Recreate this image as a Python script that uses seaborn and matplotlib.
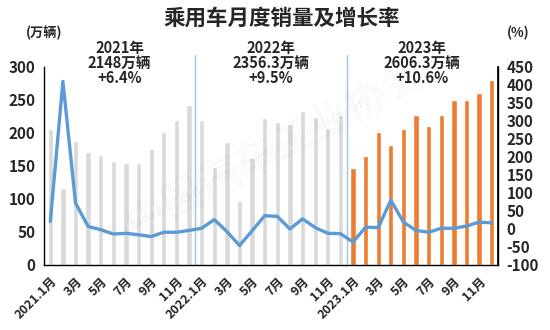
import matplotlib
matplotlib.use("Agg")
import matplotlib.pyplot as plt
import seaborn as sns
import pandas as pd
import numpy as np

sns.set_theme(style="white")
plt.rcParams['font.family'] = ['Noto Sans CJK SC', 'DejaVu Sans']
plt.rcParams['axes.unicode_minus'] = False

# Monthly passenger-car sales (万辆), Jan 2021 - Dec 2023
sales_2021 = [206, 116, 188, 171, 166, 158, 155, 155, 176, 202, 220, 242]
sales_2022 = [220, 149, 186, 97, 162, 222, 217, 213, 233, 224, 208, 227]
sales_2023 = [147, 165, 202, 182, 206, 227, 211, 228, 250, 250, 261, 280]

# Year-on-year growth (%)
growth_2021 = [21, 410, 72, 7, -2, -14, -12, -16, -21, -9, -9, -4]
growth_2022 = [2, 26, -7, -46, -5, 37, 35, 0, 28, 4, -12, -13]
growth_2023 = [-36, 5, 4, 80, 19, -4, -9, 2, 2, 8, 19, 17]

years = ["2021", "2022", "2023"]
year_notes = ["2021年\n2148万辆\n+6.4%", "2022年\n2356.3万辆\n+9.5%", "2023年\n2606.3万辆\n+10.6%"]
month_labels = ["1月", "3月", "5月", "7月", "9月", "11月"]

sales = sales_2021 + sales_2022 + sales_2023
growth = growth_2021 + growth_2022 + growth_2023
n = len(sales)
df = pd.DataFrame({
    "idx": np.arange(n),
    "sales": sales,
    "growth": growth,
    "year": np.repeat(years, 12),
})

fig = plt.figure(figsize=(5.5, 3.3), dpi=100)

# faint association watermark
fig.text(0.5, 0.55, "中国汽车工业协会", rotation=28, fontsize=30, fontweight="bold",
         color="#000000", alpha=0.025, ha="center", va="center", zorder=0)
fig.text(0.45, 0.5, "China Association of Automobile Manufacturers", rotation=28,
         fontsize=9, color="#000000", alpha=0.04, ha="center", va="center", zorder=0)

ax = fig.add_axes([0.08, 0.197, 0.8255, 0.6])
ax.patch.set_alpha(0)

bar_colors = {"2021": "#d9d9d9", "2022": "#d9d9d9", "2023": "#ed7d31"}
sns.barplot(data=df, x="idx", y="sales", hue="year", palette=bar_colors,
            width=0.42, dodge=False, legend=False, ax=ax, saturation=1)
ax.set_ylim(0, 300)
ax.set_xlim(-0.5, n - 0.5)
ax.set_yticks(range(0, 301, 50))
ax.tick_params(axis="y", length=0, pad=6)
ax.tick_params(axis="x", length=0, pad=7)
for t in ax.get_yticklabels():
    t.set_fontweight("bold")
    t.set_fontsize(11)

ticks = list(range(0, n, 2))
labels = []
for i in ticks:
    m = month_labels[(i % 12) // 2]
    labels.append(f"{years[i // 12]}.{m}" if i % 12 == 0 else m)
ax.set_xticks(ticks)
ax.set_xticklabels(labels, rotation=45, ha="right", rotation_mode="anchor",
                   fontsize=9, fontweight="bold")
ax.set_xlabel("")
ax.set_ylabel("")

ax.spines["top"].set_visible(False)
for s in ["left", "bottom", "right"]:
    ax.spines[s].set_color("black")
    ax.spines[s].set_linewidth(1)

# year separators
for xv in [11.5, 23.5]:
    ax.plot([xv, xv], [0, 318], color="#9dc3e6", lw=1, clip_on=False, zorder=1)

ax2 = ax.twinx()
sns.lineplot(data=df, x="idx", y="growth", color="#5b9bd5", lw=2.4, ax=ax2)
ax2.set_ylim(-100, 450)
ax2.set_yticks(range(-100, 451, 50))
ax2.tick_params(axis="y", length=0, pad=6)
for t in ax2.get_yticklabels():
    t.set_fontweight("bold")
    t.set_fontsize(11)
ax2.set_ylabel("")
ax2.set_xlabel("")
ax2.spines["top"].set_visible(False)
ax2.spines["left"].set_visible(False)
ax2.spines["bottom"].set_visible(False)
ax2.spines["right"].set_color("black")
ax2.set_xlim(-0.5, n - 0.5)

# year summaries
for k, note in enumerate(year_notes):
    ax.text(k * 12 + 5.5, 306, note, ha="center", va="center",
            fontsize=10.5, fontweight="bold", linespacing=0.95)

fig.text(0.512, 0.945, "乘用车月度销量及增长率", ha="center", va="center",
         fontsize=15.5, fontweight="bold")
fig.text(0.08, 0.9, "(万辆)", ha="center", va="center", fontsize=9.5, fontweight="bold")
fig.text(0.942, 0.9, "(%)", ha="center", va="center", fontsize=9.5, fontweight="bold")

fig.savefig("out.png", dpi=100)
